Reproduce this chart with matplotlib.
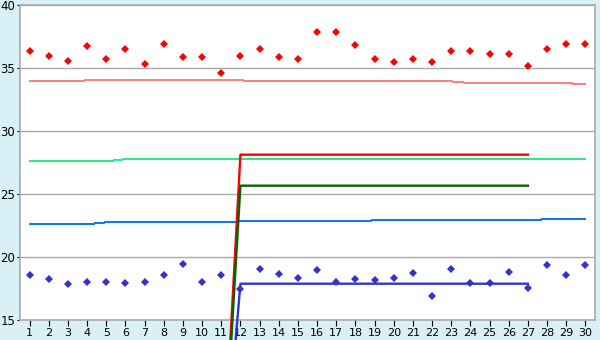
import matplotlib
matplotlib.use('Agg')
import matplotlib.pyplot as plt
import numpy as np

# categories 1..30
cats = np.arange(1, 31)

# scattered readings
red_pts = [36.33, 35.93, 35.53, 36.72, 35.69, 36.48, 35.29, 36.88, 35.85, 35.85,
           34.58, 35.93, 36.48, 35.85, 35.69, 37.83, 37.83, 36.80, 35.69, 35.45,
           35.69, 35.45, 36.33, 36.33, 36.09, 36.09, 35.13, 36.48, 36.88, 36.88]
blue_pts = [18.55, 18.23, 17.83, 17.99, 17.99, 17.91, 17.99, 18.55, 19.42, 17.99,
            18.55, 17.44, 19.02, 18.63, 18.31, 18.94, 17.99, 18.23, 18.15, 18.31,
            18.71, 16.88, 19.02, 17.91, 17.91, 18.79, 17.52, 19.34, 18.55, 19.34]

# thin reference lines
pink_line = [33.94] * 3 + [34.02] * 9 + [33.94] * 11 + [33.80] * 6 + [33.70]
green_line = [27.60] * 5 + [27.76] * 25
blue_line = [22.60] * 4 + [22.75] * 7 + [22.83] * 7 + [22.91] * 9 + [23.00] * 3

# thick lines, cats 11..27 (0 at 11)
thick_cats = np.arange(11, 28)
red_thick = [0] + [28.12] * 16
green_thick = [0] + [25.66] * 16
blue_thick = [0] + [17.88] * 16

bg = '#DAF0F7'
fig = plt.figure(figsize=(6, 3.4), dpi=100, facecolor=bg)
ax = fig.add_axes([20 / 600, 1 - 320 / 340, 575 / 600, 315 / 340])
ax.set_facecolor('white')

ax.plot(cats, pink_line, color='#FF8080', lw=0.72, antialiased=False)
ax.plot(cats, green_line, color='#2EE88A', lw=0.72, antialiased=False)
ax.plot(cats, blue_line, color='#0A7AF0', lw=0.72, antialiased=False)

ax.plot(thick_cats, red_thick, color='#FF0000', lw=1.7, clip_on=False, zorder=3)
ax.plot(thick_cats, green_thick, color='#006600', lw=1.7, clip_on=False, zorder=3)
ax.plot(thick_cats, blue_thick, color='#3333CC', lw=1.7, clip_on=False, zorder=3)

ax.plot(cats, red_pts, ls='none', marker='D', ms=3.6, color='#FF0000', mew=0, zorder=4)
ax.plot(cats, blue_pts, ls='none', marker='D', ms=3.6, color='#3333CC', mew=0, zorder=4)

ax.set_xlim(0.5, 30.5)
ax.set_ylim(15, 40)
ax.set_xticks(cats)
ax.set_xticklabels([str(c) for c in cats])
ax.set_yticks([15, 20, 25, 30, 35, 40])
ax.yaxis.grid(True, color='#AAAAAA', lw=1)
ax.set_axisbelow(True)
for s in ax.spines.values():
    s.set_color('#AAAAAA')
    s.set_linewidth(1.2)
ax.tick_params(axis='x', length=4, width=0.8, color='black', labelsize=8, pad=2)
ax.tick_params(axis='y', length=2.5, width=0.8, color='black', labelsize=8.5, pad=1)

fig.savefig('out.png', dpi=100, facecolor=bg)
